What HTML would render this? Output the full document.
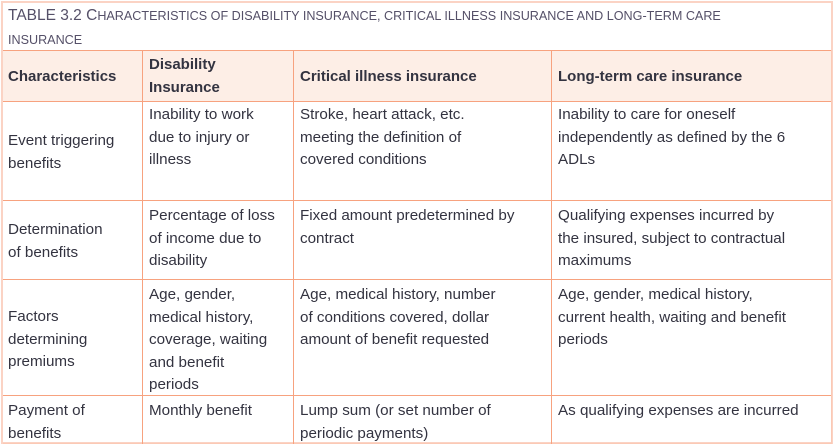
<!DOCTYPE html>
<html><head><meta charset="utf-8"><style>
body{margin:0;background:#fff;}
#w{position:relative;width:837px;height:448px;overflow:hidden;background:#fff;font-family:"Liberation Sans",sans-serif;color:#333340;}
.o{position:absolute;left:1px;top:1px;width:832px;height:443px;border:2px solid #fbd3c4;box-sizing:border-box;}
.h{position:absolute;height:1px;background:#f7a27f;}
.v{position:absolute;width:1px;background:#f7a27f;}
.c{position:absolute;font-size:15.2px;line-height:22.5px;white-space:nowrap;}
.b{font-weight:bold;font-size:15px;}
.t{position:absolute;left:8px;top:4px;font-size:15.5px;line-height:23px;color:#555068;white-space:nowrap;}
.sc{font-size:12.6px;text-transform:uppercase;}
</style></head><body>
<div id="w">
<div class="o"></div>
<div class="t">TABLE 3.2 C<span class="sc">haracteristics of disability insurance, critical illness insurance and long-term care</span><br><span class="sc">insurance</span></div>
<div style="position:absolute;left:3px;top:50px;width:829px;height:51px;background:#fdeee6"></div>
<div class="h" style="left:3px;top:50px;width:829px"></div>
<div class="h" style="left:3px;top:101px;width:829px"></div>
<div class="h" style="left:3px;top:200px;width:829px"></div>
<div class="h" style="left:3px;top:279px;width:829px"></div>
<div class="h" style="left:3px;top:395px;width:829px"></div>
<div class="h" style="left:3px;top:443px;width:829px;background:#fbc9b5"></div>
<div class="v" style="left:142px;top:50px;height:394px"></div>
<div class="v" style="left:293px;top:50px;height:394px"></div>
<div class="v" style="left:551px;top:50px;height:394px"></div>
<div class="v" style="left:831px;top:50px;height:394px;background:#fbc9b5"></div>

<div class="c b" style="left:8px;top:66px">Characteristics</div>
<div class="c b" style="left:149px;top:54px">Disability<br>Insurance</div>
<div class="c b" style="left:300px;top:66px">Critical illness insurance</div>
<div class="c b" style="left:558px;top:66px">Long-term care insurance</div>

<div class="c" style="left:8px;top:130px">Event triggering<br>benefits</div>
<div class="c" style="left:149px;top:104px">Inability to work<br>due to injury or<br>illness</div>
<div class="c" style="left:300px;top:104px">Stroke, heart attack, etc.<br>meeting the definition of<br>covered conditions</div>
<div class="c" style="left:558px;top:104px">Inability to care for oneself<br>independently as defined by the 6<br>ADLs</div>

<div class="c" style="left:8px;top:219px">Determination<br>of benefits</div>
<div class="c" style="left:149px;top:205px">Percentage of loss<br>of income due to<br>disability</div>
<div class="c" style="left:300px;top:205px">Fixed amount predetermined by<br>contract</div>
<div class="c" style="left:558px;top:205px">Qualifying expenses incurred by<br>the insured, subject to contractual<br>maximums</div>

<div class="c" style="left:8px;top:306px">Factors<br>determining<br>premiums</div>
<div class="c" style="left:149px;top:284px">Age, gender,<br>medical history,<br>coverage, waiting<br>and benefit<br>periods</div>
<div class="c" style="left:300px;top:284px">Age, medical history, number<br>of conditions covered, dollar<br>amount of benefit requested</div>
<div class="c" style="left:558px;top:284px">Age, gender, medical history,<br>current health, waiting and benefit<br>periods</div>

<div class="c" style="left:8px;top:400px">Payment of<br>benefits</div>
<div class="c" style="left:149px;top:400px">Monthly benefit</div>
<div class="c" style="left:300px;top:400px">Lump sum (or set number of<br>periodic payments)</div>
<div class="c" style="left:558px;top:400px">As qualifying expenses are incurred</div>
</div>
</body></html>
